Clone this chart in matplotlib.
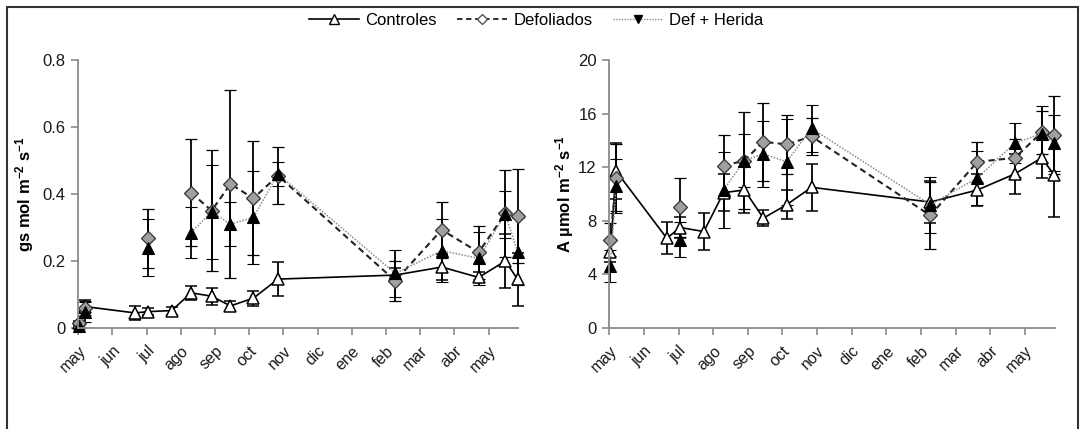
import numpy as np
import matplotlib.pyplot as plt
from matplotlib.lines import Line2D
from matplotlib.patches import Rectangle

plt.rcParams['font.family'] = ['Liberation Sans', 'DejaVu Sans']
plt.rcParams['mathtext.fontset'] = 'custom'
plt.rcParams['mathtext.rm'] = 'Liberation Sans:bold'
plt.rcParams['mathtext.it'] = 'Liberation Sans:bold'
plt.rcParams['mathtext.bf'] = 'Liberation Sans:bold'

# month labels, may .. may
months = ['may', 'jun', 'jul', 'ago', 'sep', 'oct', 'nov', 'dic', 'ene', 'feb', 'mar', 'abr', 'may']

# sampling dates, in months since 1 may
fechas = [0.03, 0.2, 1.66, 2.05, 2.73, 3.3, 3.9, 4.45, 5.12, 5.84, 9.27, 10.63, 11.71, 12.49, 12.85]
nan = np.nan

# stomatal conductance (gs)
gs_ctrl = [0.015, 0.064, 0.045, 0.049, 0.052, 0.105, 0.095, 0.066, 0.089, 0.146, 0.158, 0.182, 0.151, 0.2, 0.145]
gs_ctrl_err = [0.005, 0.02, 0.022, 0.01, 0.012, 0.02, 0.025, 0.015, 0.022, 0.05, 0.02, 0.04, 0.015, 0.08, 0.08]
gs_def = [0.014, 0.06, nan, 0.268, nan, 0.404, 0.35, 0.43, 0.387, 0.455, 0.141, 0.293, 0.226, 0.342, 0.335]
gs_def_err = [0.005, 0.02, nan, 0.088, nan, 0.16, 0.18, 0.28, 0.17, 0.085, 0.06, 0.083, 0.08, 0.13, 0.14]
gs_her = [0.006, 0.049, nan, 0.24, nan, 0.285, 0.347, 0.31, 0.33, 0.46, 0.163, 0.231, 0.208, 0.34, 0.228]
gs_her_err = [0.005, 0.03, nan, 0.085, nan, 0.075, 0.14, 0.065, 0.14, 0.035, 0.07, 0.095, 0.08, 0.07, 0.1]

# net assimilation (A)
a_ctrl = [5.7, 11.7, 6.7, 7.5, 7.2, 10.1, 10.3, 8.2, 9.2, 10.5, 9.4, 10.3, 11.5, 12.7, 11.4]
a_ctrl_err = [0.8, 2.1, 1.2, 0.8, 1.4, 1.4, 1.7, 0.6, 1.1, 1.75, 1.6, 1.2, 1.5, 1.5, 3.1]
a_def = [6.6, 11.2, nan, 9.0, nan, 12.1, 12.5, 13.9, 13.7, 14.3, 8.4, 12.4, 12.7, 14.6, 14.4]
a_def_err = [1.2, 2.5, nan, 2.2, nan, 2.3, 3.6, 2.9, 2.2, 1.4, 2.5, 1.5, 1.4, 1.6, 2.9]
a_her = [4.6, 10.6, nan, 6.6, nan, 10.3, 12.5, 13.0, 12.4, 14.9, 9.2, 11.2, 13.8, 14.5, 13.8]
a_her_err = [1.2, 2.0, nan, 1.3, nan, 2.8, 2.0, 2.45, 3.2, 1.75, 2.1, 2.0, 1.5, 2.1, 2.1]

estilos = {
    'ctrl': dict(color='black', ls='-', lw=1.2, marker='^', ms=8.5, mfc='white', mec='black', mew=1.1),
    'def': dict(color='#222222', ls=(0, (3, 2)), lw=1.5, marker='D', ms=7, mfc='#a0a0a0', mec='#333333', mew=0.9),
    'her': dict(color='#8c8c8c', ls=(0, (1, 1)), lw=1.1, marker='^', ms=8.5, mfc='black', mec='black', mew=0.8),
}


def panel(ax, series, ylim, yticks, ylabel, label_x):
    for y, err, key in series:
        ax.errorbar(fechas, y, yerr=err, ecolor='black', elinewidth=1.3,
                    capsize=4.5, capthick=1.3, clip_on=False, **estilos[key])
    ax.set_xlim(0, 12.87)
    ax.set_ylim(*ylim)
    ax.set_yticks(yticks)
    ax.set_xticks(range(len(months)))
    ax.set_xticklabels(months, rotation=45, ha='right', rotation_mode='anchor')
    for s in ['top', 'right']:
        ax.spines[s].set_visible(False)
    for s in ['left', 'bottom']:
        ax.spines[s].set_color('#8a8a8a')
        ax.spines[s].set_linewidth(1.3)
    ax.tick_params(colors='#8a8a8a', labelcolor='#1a1a1a', length=5, width=1.2, pad=4)
    ax.tick_params(axis='x', labelsize=11.5, pad=6)
    ax.tick_params(axis='y', labelsize=12)
    ax.set_ylabel(ylabel, fontsize=12, fontweight='bold')
    ax.yaxis.set_label_coords(label_x, 0.5)


fig = plt.figure(figsize=(10.83, 4.29), dpi=100)
ax1 = fig.add_axes([0.0723, 0.2354, 0.4063, 0.6247])
ax2 = fig.add_axes([0.5626, 0.2354, 0.4115, 0.6247])

panel(ax1, [(gs_ctrl, gs_ctrl_err, 'ctrl'), (gs_def, gs_def_err, 'def'), (gs_her, gs_her_err, 'her')],
      (0, 0.8), [0, 0.2, 0.4, 0.6, 0.8], r'gs mol m$^{-2}$ s$^{-1}$', -0.095)
ax1.set_yticklabels(['0', '0.2', '0.4', '0.6', '0.8'])
panel(ax2, [(a_ctrl, a_ctrl_err, 'ctrl'), (a_def, a_def_err, 'def'), (a_her, a_her_err, 'her')],
      (0, 20), [0, 4, 8, 12, 16, 20], r'A µmol m$^{-2}$ s$^{-1}$', -0.075)

# legend across the top
handles = [
    Line2D([], [], color='black', ls='-', lw=1.2, marker='^', ms=6.5, mfc='white', mec='black'),
    Line2D([], [], color='#222222', ls=(0, (3, 2)), lw=1.3, marker='D', ms=5.5, mfc='white', mec='#555555'),
    Line2D([], [], color='#8c8c8c', ls=(0, (1, 1)), lw=1.0, marker='v', ms=5.5, mfc='black', mec='black'),
]
fig.legend(handles, ['Controles', 'Defoliados', 'Def + Herida'], loc='center',
           bbox_to_anchor=(0.495, 0.953), ncol=3, frameon=False, fontsize=12,
           handlelength=3, columnspacing=1.2, handletextpad=0.4)

# outer frame
fig.add_artist(Rectangle((7 / 1083, -0.02), 1071 / 1083, 1 - 7 / 429 + 0.02,
                         transform=fig.transFigure, fill=False, ec='#333333', lw=1.5))

fig.savefig('out.png', dpi=100)
